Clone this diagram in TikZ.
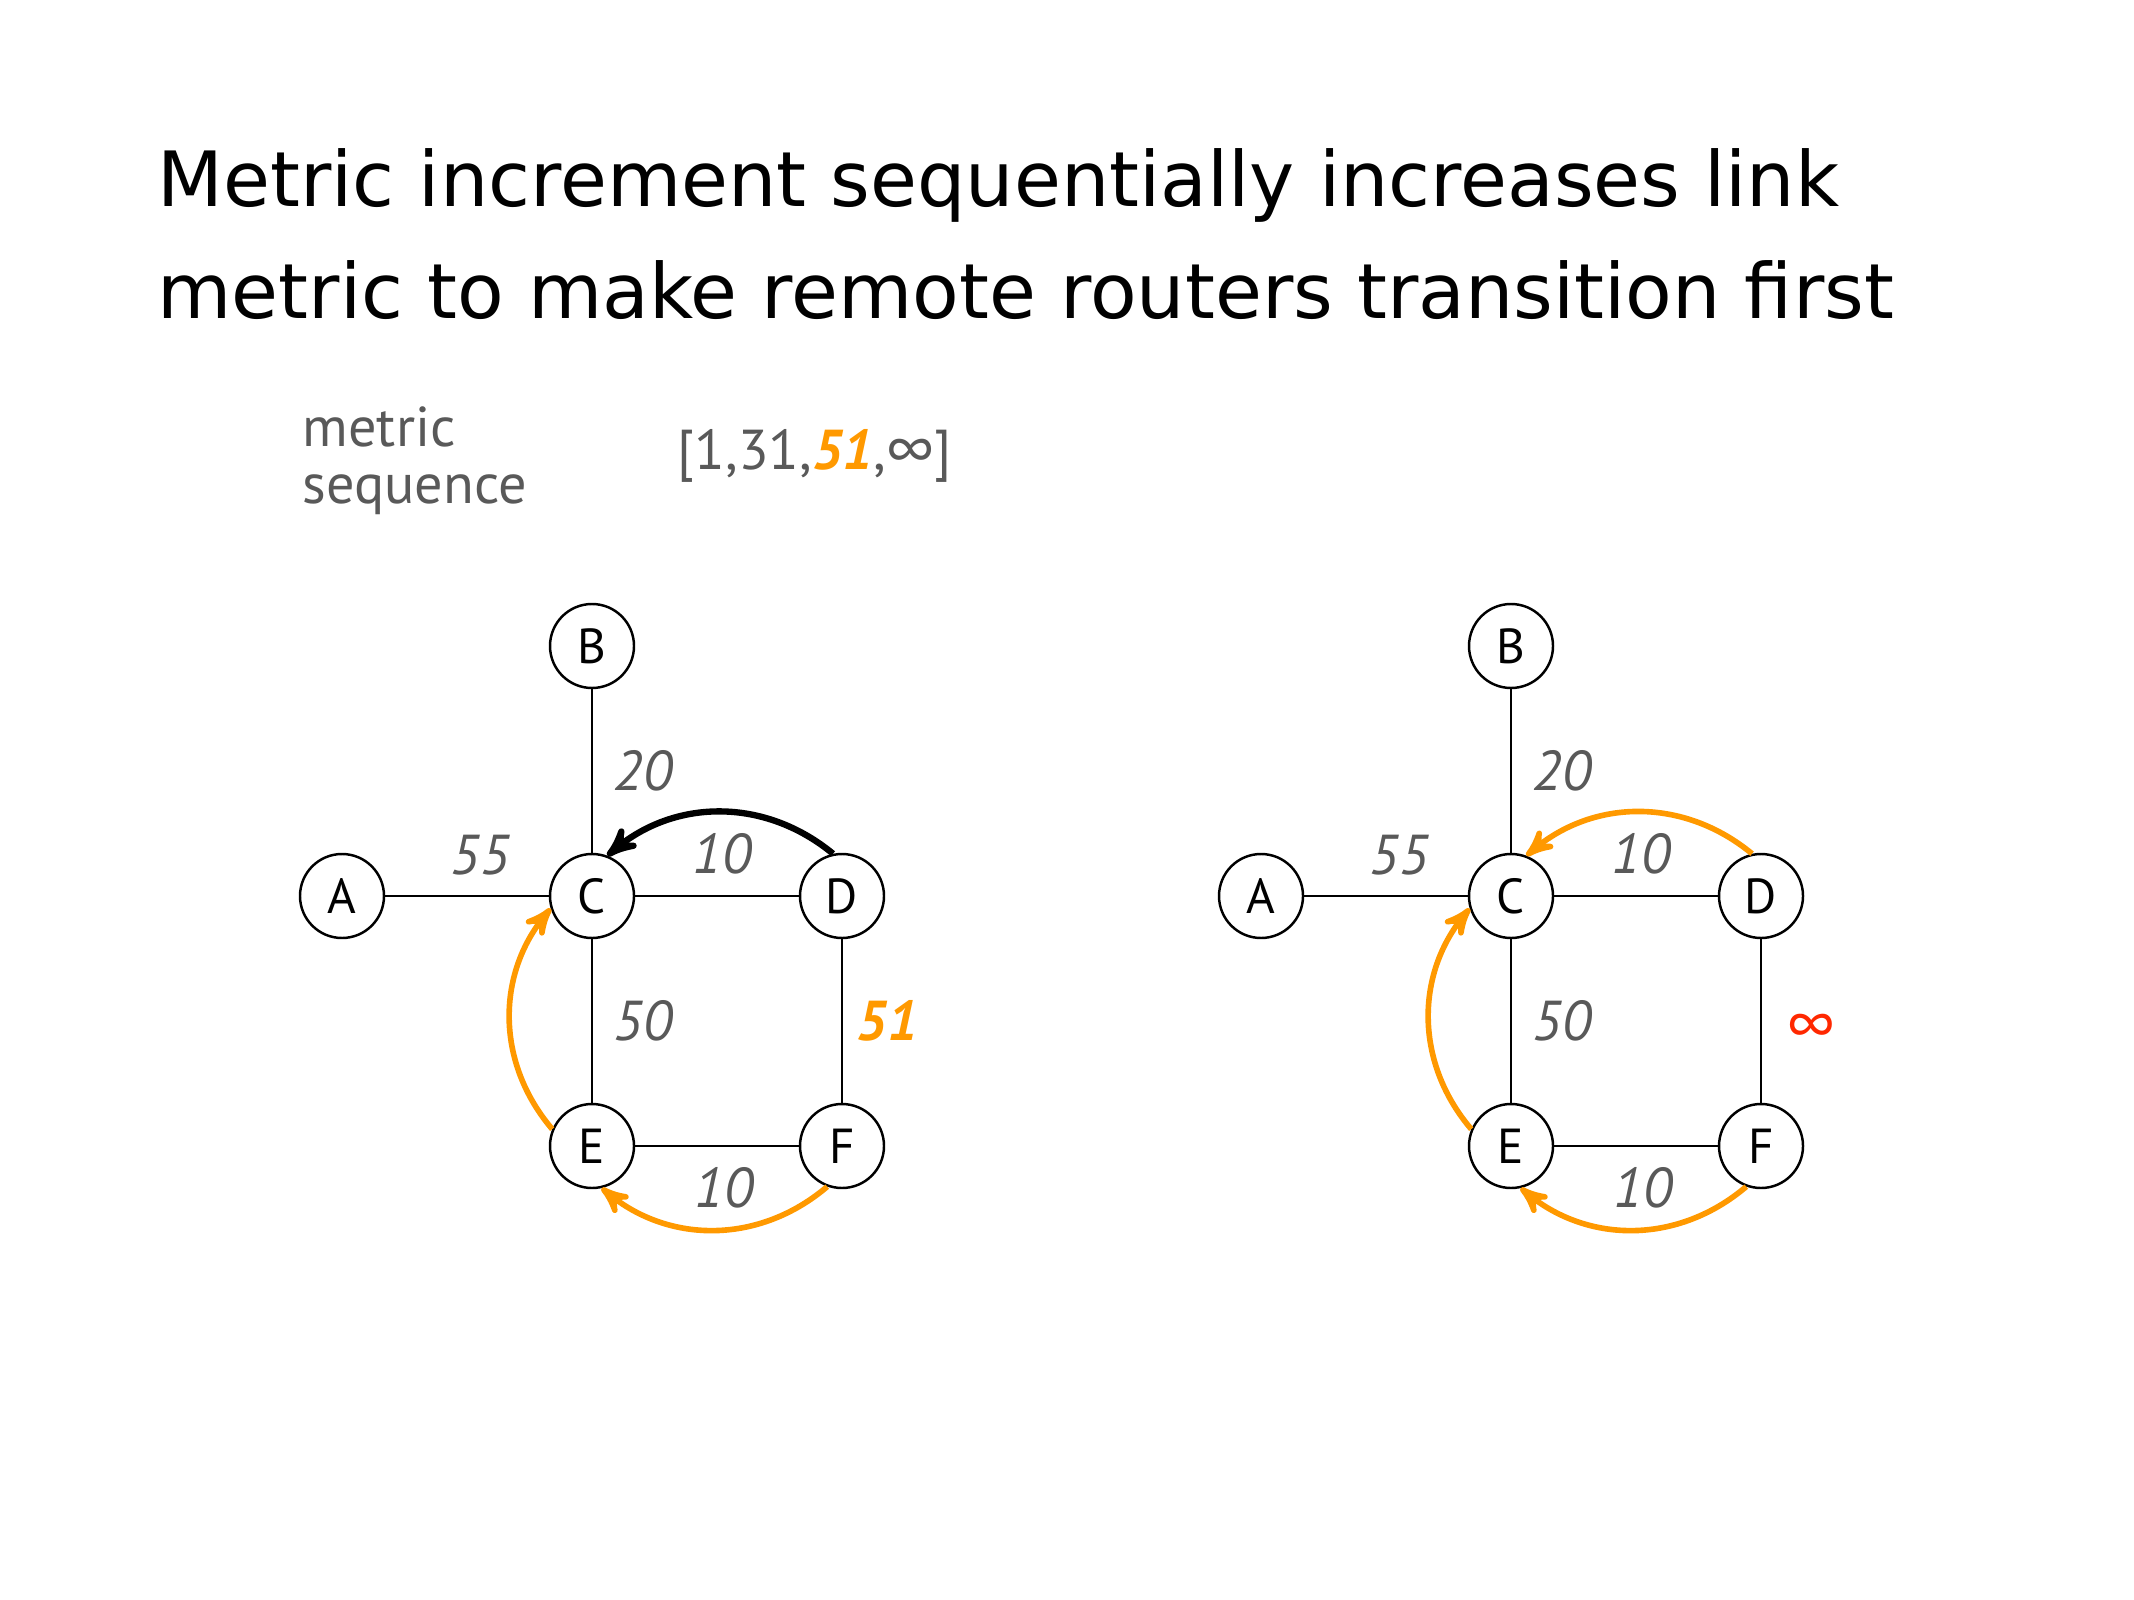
\documentclass[tikz,border=0pt]{standalone}
\usepackage{fontspec}
\setmainfont{PT Sans}
\newfontfamily\titlefont{DejaVu Sans}
\usetikzlibrary{arrows,positioning}
\definecolor{metricorange}{RGB}{255,153,0}
\definecolor{labelgray}{RGB}{89,89,89}
\definecolor{infred}{RGB}{255,40,0}
\tikzset{
    >=stealth',
    titletext/.style={anchor=base west, inner sep=0pt, font=\titlefont\fontsize{21.7}{26}\selectfont},
    seqtext/.style={anchor=base west, inner sep=0pt, text=labelgray, font=\fontsize{16}{19}\selectfont},
    router/.style={circle, draw, line width=0.7pt, minimum size=0.84cm, inner sep=0pt, font=\fontsize{14}{14}\selectfont},
    link/.style={line width=0.7pt},
    weight/.style={midway, inner sep=0pt, text=labelgray, font=\fontsize{16}{16}\selectfont\itshape},
    oldpath/.style={->, line width=1.8pt, black},
    newpath/.style={->, line width=1.6pt, metricorange},
}

\begin{document}
\begin{tikzpicture}[node distance=2.5cm, on grid]
    \useasboundingbox (0,0) rectangle (21.34,-16);

    % title
    \node[titletext] (title1) at (1.57,-2.07) {Metric increment sequentially increases link};
    \node[titletext] (title2) at (1.57,-3.19) {metric to make remote routers transition first};

    \node[seqtext] (seqname1) at (3.02,-4.47) {metric};
    \node[seqtext] (seqname2) at (3.02,-5.04) {sequence};
    \node[seqtext] (seqvals) at (6.77,-4.70) {[1,31,\textcolor{metricorange}{\textbf{\textit{51}}},∞]};

    % left graph
    \node[router] (C1) at (5.92,-8.96) {C};
    \node[router, above=of C1] (B1) {B};
    \node[router, left=of C1] (A1) {A};
    \node[router, right=of C1] (D1) {D};
    \node[router, below=of C1] (E1) {E};
    \node[router, right=of E1] (F1) {F};

    \draw[link] (B1) -- node[weight, xshift=0.51cm] {20} (C1);
    \draw[link] (A1) -- node[weight, xshift=0.13cm, yshift=0.41cm] {55} (C1);
    \draw[link] (C1) -- node[weight, xshift=0.05cm, yshift=0.42cm] {10} (D1);
    \draw[link] (C1) -- node[weight, xshift=0.51cm] {50} (E1);
    \draw[link] (D1) -- node[weight, xshift=0.45cm, text=metricorange, font=\fontsize{16}{16}\selectfont\bfseries\itshape] {51} (F1);
    \draw[link] (E1) -- node[weight, xshift=0.07cm, yshift=-0.42cm] {10} (F1);

    \draw[oldpath] (D1.102) to[bend right=40] (C1.69);
    \draw[newpath] (E1.157) to[bend left=40] (C1.197);
    \draw[newpath] (F1.250) to[bend left=40] (E1.283);

    % right graph
    \node[router] (C2) at (15.11,-8.96) {C};
    \node[router, above=of C2] (B2) {B};
    \node[router, left=of C2] (A2) {A};
    \node[router, right=of C2] (D2) {D};
    \node[router, below=of C2] (E2) {E};
    \node[router, right=of E2] (F2) {F};

    \draw[link] (B2) -- node[weight, xshift=0.51cm] {20} (C2);
    \draw[link] (A2) -- node[weight, xshift=0.13cm, yshift=0.41cm] {55} (C2);
    \draw[link] (C2) -- node[weight, xshift=0.05cm, yshift=0.42cm] {10} (D2);
    \draw[link] (C2) -- node[weight, xshift=0.51cm] {50} (E2);
    \draw[link] (D2) -- node[weight, xshift=0.49cm, yshift=-0.08cm, text=infred] {∞} (F2);
    \draw[link] (E2) -- node[weight, xshift=0.07cm, yshift=-0.42cm] {10} (F2);

    \draw[newpath] (D2.102) to[bend right=40] (C2.69);
    \draw[newpath] (E2.157) to[bend left=40] (C2.197);
    \draw[newpath] (F2.250) to[bend left=40] (E2.283);
\end{tikzpicture}
\end{document}
